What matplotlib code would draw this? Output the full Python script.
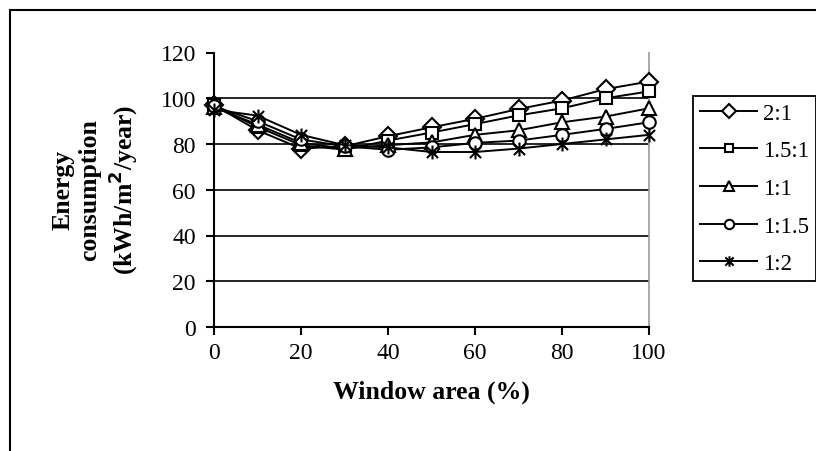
import matplotlib
matplotlib.use("Agg")
import matplotlib.pyplot as plt
from matplotlib.path import Path
from matplotlib.patches import Rectangle
import numpy as np

plt.rcParams['font.family'] = ['Liberation Serif', 'DejaVu Serif']

window_area = [0, 10, 20, 30, 40, 50, 60, 70, 80, 90, 100]
ratios = ["2:1", "1.5:1", "1:1", "1:1.5", "1:2"]
s_2_1   = [97.0, 86.0, 78.0, 79.0, 83.4, 87.3, 91.0, 95.3, 99.0, 104.0, 107.3]
s_15_1  = [97.0, 87.5, 79.5, 77.5, 81.5, 85.0, 88.7, 92.5, 95.6, 100.0, 103.0]
s_1_1   = [96.0, 88.5, 80.5, 78.0, 79.5, 80.7, 84.0, 86.0, 89.5, 92.0, 95.6]
s_1_15  = [96.5, 90.0, 82.0, 79.0, 77.5, 78.5, 80.5, 81.5, 84.0, 86.6, 89.5]
s_1_2   = [95.0, 92.4, 84.0, 79.5, 78.5, 76.5, 76.5, 78.0, 80.0, 82.0, 84.0]
series = [s_2_1, s_15_1, s_1_1, s_1_15, s_1_2]
y_ticks = [0, 20, 40, 60, 80, 100, 120]
x_ticks = [0, 20, 40, 60, 80, 100]

# Excel-style star marker: X with vertical stroke
star = Path([(-1, -1), (1, 1), (-1, 1), (1, -1), (0, -1.25), (0, 1.25)],
            [Path.MOVETO, Path.LINETO, Path.MOVETO, Path.LINETO, Path.MOVETO, Path.LINETO])
markers = ['D', 's', '^', 'o', star]
msizes = [9, 8.5, 9.5, 9, 10]

W, H = 816, 452
fig = plt.figure(figsize=(W / 100, H / 100), dpi=100)
ax = fig.add_axes([214 / W, 1 - 328 / H, (649 - 214) / W, (328 - 53.5) / H])

for vals, lab, mk, ms in zip(series, ratios, markers, msizes):
    ax.plot(window_area, vals, color='black', lw=1.4, marker=mk, ms=ms,
            mfc='white', mec='black', mew=1.5, label=lab, clip_on=False, zorder=3)

ax.set_xlim(0, 100)
ax.set_ylim(0, 120)
ax.set_xticks(x_ticks)
ax.set_yticks(y_ticks)
ax.tick_params(axis='both', labelsize=17, length=6, width=1.5, color='black', direction='out')
ax.tick_params(axis='x', pad=5)
ax.tick_params(axis='y', pad=7)
for g in y_ticks[1:-1]:
    ax.axhline(g, color='black', lw=1.2, zorder=1)
ax.spines['top'].set_visible(False)
ax.spines['right'].set_color('#999999')
ax.spines['right'].set_linewidth(1.2)
ax.spines['left'].set_linewidth(1.5)
ax.spines['bottom'].set_linewidth(1.5)

ax.set_xlabel("Window area (%)", fontsize=18.5, fontweight='bold', labelpad=12)
fig.text(96 / W, 1 - 190 / H, "Energy\nconsumption\n(kWh/m$^{\\mathbf{2}}$/year)",
         rotation=90, ha='center', va='center', fontsize=18.5, fontweight='bold',
         linespacing=1.2, multialignment='center')

leg = fig.legend(loc='upper left', bbox_to_anchor=(693 / W, 1 - 97 / H),
                 bbox_transform=fig.transFigure, borderaxespad=0, fontsize=16.5,
                 handlelength=2.5, handletextpad=0.25, labelspacing=0.72,
                 borderpad=0.3, fancybox=False, framealpha=1, edgecolor='black',
                 markerscale=0.75)
leg.get_frame().set_linewidth(1.3)

fig.patches.append(Rectangle((10 / W, -0.2), 1.5, (1 - 11 / H) + 0.2,
                             transform=fig.transFigure, fill=False,
                             edgecolor='black', lw=1.5))

fig.savefig("out.png", dpi=100)
